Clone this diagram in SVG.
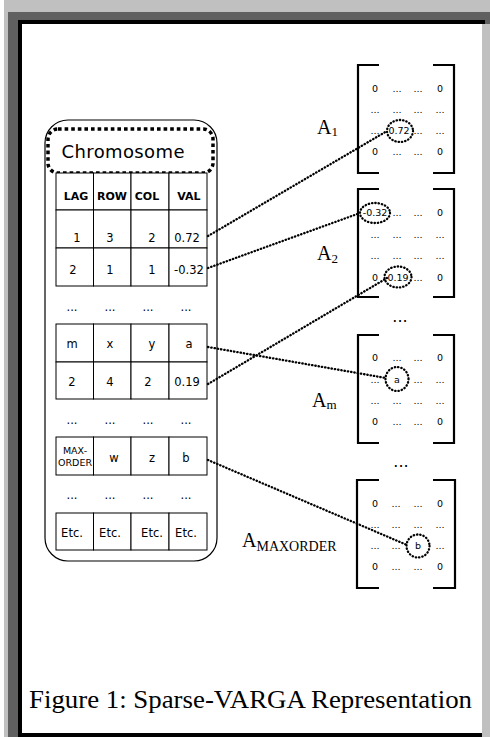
<svg xmlns="http://www.w3.org/2000/svg" width="490" height="737" viewBox="0 0 490 737">
<style>
.cell{fill:#fff;stroke:#000;stroke-width:1}
.t{font-family:"DejaVu Sans",Verdana,sans-serif;font-size:11.5px;text-anchor:middle;fill:#000}
.h{font-family:"DejaVu Sans",Verdana,sans-serif;font-size:11px;font-weight:bold;text-anchor:middle;fill:#000}
.m{font-family:"DejaVu Sans",Verdana,sans-serif;font-size:9.5px;text-anchor:middle;fill:#000}
.dots{font-family:"DejaVu Sans",Verdana,sans-serif;font-size:16px;text-anchor:middle;fill:#000}
.lbl{font-family:"Liberation Serif","Times New Roman",serif;fill:#000}
.br{fill:none;stroke:#000;stroke-width:2.2}
.dl{fill:none;stroke:#000;stroke-width:2.3;stroke-dasharray:0.4 2.9;stroke-linecap:round}
</style>
<rect x="0" y="0" width="490" height="737" fill="#fff"/>
<rect x="4" y="0" width="486" height="737" fill="#c0c0c0"/>
<rect x="8" y="12" width="482" height="12" fill="#606060"/>
<rect x="8" y="12" width="10" height="725" fill="#606060"/>
<rect x="18" y="20" width="467" height="717" fill="#000"/>
<rect x="22" y="24" width="460" height="709" fill="#fff"/>
<rect x="482" y="24" width="8" height="713" fill="#c0c0c0"/>

<g id="chromosome">
<rect x="45" y="120" width="172" height="441" rx="23" ry="23" fill="#fff" stroke="#000" stroke-width="1.2"/>
<rect x="48" y="129" width="165" height="44" rx="10" ry="10" fill="none" stroke="#000" stroke-width="3.5" stroke-dasharray="3.6 3"/>
<text x="123" y="158" font-family="'DejaVu Sans',sans-serif" font-size="18" text-anchor="middle" textLength="123">Chromosome</text>
</g>

<g id="table">
<g>
<rect class="cell" x="56" y="173" width="37.5" height="37"/><rect class="cell" x="93.5" y="173" width="37.5" height="37"/><rect class="cell" x="131" y="173" width="38" height="37"/><rect class="cell" x="169" y="173" width="38" height="37"/>
<rect class="cell" x="56" y="210" width="37.5" height="38"/><rect class="cell" x="93.5" y="210" width="37.5" height="38"/><rect class="cell" x="131" y="210" width="38" height="38"/><rect class="cell" x="169" y="210" width="38" height="38"/>
<rect class="cell" x="56" y="248" width="37.5" height="38"/><rect class="cell" x="93.5" y="248" width="37.5" height="38"/><rect class="cell" x="131" y="248" width="38" height="38"/><rect class="cell" x="169" y="248" width="38" height="38"/>
<rect class="cell" x="56" y="324" width="37.5" height="38"/><rect class="cell" x="93.5" y="324" width="37.5" height="38"/><rect class="cell" x="131" y="324" width="38" height="38"/><rect class="cell" x="169" y="324" width="38" height="38"/>
<rect class="cell" x="56" y="362" width="37.5" height="37"/><rect class="cell" x="93.5" y="362" width="37.5" height="37"/><rect class="cell" x="131" y="362" width="38" height="37"/><rect class="cell" x="169" y="362" width="38" height="37"/>
<rect class="cell" x="56" y="437" width="37.5" height="38"/><rect class="cell" x="93.5" y="437" width="37.5" height="38"/><rect class="cell" x="131" y="437" width="38" height="38"/><rect class="cell" x="169" y="437" width="38" height="38"/>
<rect class="cell" x="56" y="513" width="37.5" height="37"/><rect class="cell" x="93.5" y="513" width="37.5" height="37"/><rect class="cell" x="131" y="513" width="38" height="37"/><rect class="cell" x="169" y="513" width="38" height="37"/>
</g>
<text class="h" x="76" y="200">LAG</text><text class="h" x="112" y="200">ROW</text><text class="h" x="147" y="200">COL</text><text class="h" x="189" y="200">VAL</text>
<text class="t" x="77" y="242">1</text><text class="t" x="110" y="242">3</text><text class="t" x="152" y="242">2</text><text class="t" x="187" y="242">0.72</text>
<text class="t" x="73" y="274">2</text><text class="t" x="110" y="274">1</text><text class="t" x="152" y="274">1</text><text class="t" x="189" y="274">-0.32</text>
<text class="t" x="72" y="311">...</text><text class="t" x="110" y="311">...</text><text class="t" x="148" y="311">...</text><text class="t" x="186" y="311">...</text>
<text class="t" x="72" y="348">m</text><text class="t" x="110" y="348">x</text><text class="t" x="152" y="348">y</text><text class="t" x="189" y="348">a</text>
<text class="t" x="72" y="386">2</text><text class="t" x="110" y="386">4</text><text class="t" x="148" y="386">2</text><text class="t" x="187" y="386">0.19</text>
<text class="t" x="72" y="424">...</text><text class="t" x="110" y="424">...</text><text class="t" x="148" y="424">...</text><text class="t" x="186" y="424">...</text>
<text class="m" x="75" y="454" font-size="9.5">MAX-</text><text class="m" x="75" y="466" font-size="9.5">ORDER</text><text class="t" x="114" y="462">w</text><text class="t" x="152" y="462">z</text><text class="t" x="186" y="462">b</text>
<text class="t" x="72" y="499">...</text><text class="t" x="110" y="499">...</text><text class="t" x="148" y="499">...</text><text class="t" x="186" y="499">...</text>
<text class="t" x="72" y="537">Etc.</text><text class="t" x="110" y="537">Etc.</text><text class="t" x="152" y="537">Etc.</text><text class="t" x="186" y="537">Etc.</text>
</g>

<g id="A1">
<text class="lbl" x="317" y="134" font-size="20">A<tspan font-size="13" dy="2">1</tspan></text>
<path class="br" d="M379 65H358V173H379M433 65H454V173H433"/>
<text class="m" x="375" y="92">0</text><text class="m" x="397" y="92">...</text><text class="m" x="418" y="92">...</text><text class="m" x="440" y="92">0</text>
<text class="m" x="375" y="113">...</text><text class="m" x="397" y="113">...</text><text class="m" x="418" y="113">...</text><text class="m" x="440" y="113">...</text>
<text class="m" x="375" y="134">...</text><text class="m" x="399" y="134">0.72</text><text class="m" x="418" y="134">...</text><text class="m" x="440" y="134">...</text>
<text class="m" x="375" y="155">0</text><text class="m" x="397" y="155">...</text><text class="m" x="418" y="155">...</text><text class="m" x="440" y="155">0</text>
<ellipse class="dl" cx="400" cy="131" rx="13" ry="11"/>
</g>

<g id="A2">
<text class="lbl" x="317" y="260" font-size="20">A<tspan font-size="13" dy="3">2</tspan></text>
<path class="br" d="M379 189H358V297H379M433 189H454V297H433"/>
<text class="m" x="375" y="216">-0.32</text><text class="m" x="397" y="216">...</text><text class="m" x="418" y="216">...</text><text class="m" x="440" y="216">0</text>
<text class="m" x="375" y="238">...</text><text class="m" x="397" y="238">...</text><text class="m" x="418" y="238">...</text><text class="m" x="440" y="238">...</text>
<text class="m" x="375" y="259">...</text><text class="m" x="397" y="259">...</text><text class="m" x="418" y="259">...</text><text class="m" x="440" y="259">...</text>
<text class="m" x="375" y="281">0</text><text class="m" x="398" y="281">0.19</text><text class="m" x="418" y="281">...</text><text class="m" x="440" y="281">0</text>
<ellipse class="dl" cx="375" cy="213" rx="15" ry="10"/>
<ellipse class="dl" cx="398" cy="277" rx="13.5" ry="10.5"/>
</g>

<text class="dots" x="400" y="322">...</text>

<g id="Am">
<text class="lbl" x="312" y="407" font-size="20">A<tspan font-size="13" dy="2">m</tspan></text>
<path class="br" d="M379 335H358V443H379M433 335H454V443H433"/>
<text class="m" x="375" y="361">0</text><text class="m" x="397" y="361">...</text><text class="m" x="418" y="361">...</text><text class="m" x="440" y="361">0</text>
<text class="m" x="375" y="383">...</text><text class="m" x="397" y="383">a</text><text class="m" x="418" y="383">...</text><text class="m" x="440" y="383">...</text>
<text class="m" x="375" y="404">...</text><text class="m" x="397" y="404">...</text><text class="m" x="418" y="404">...</text><text class="m" x="440" y="404">...</text>
<text class="m" x="375" y="425">0</text><text class="m" x="397" y="425">...</text><text class="m" x="418" y="425">...</text><text class="m" x="440" y="425">0</text>
<ellipse class="dl" cx="397" cy="379" rx="11.5" ry="12"/>
</g>

<text class="dots" x="401" y="467">...</text>

<g id="AMAXORDER">
<text class="lbl" x="242" y="547" font-size="20">A<tspan font-size="14" dy="4">MAXORDER</tspan></text>
<path class="br" d="M379 480H357V588H379M433 480H455V588H433"/>
<text class="m" x="375" y="507">0</text><text class="m" x="396" y="507">...</text><text class="m" x="418" y="507">...</text><text class="m" x="440" y="507">0</text>
<text class="m" x="375" y="528">...</text><text class="m" x="396" y="528">...</text><text class="m" x="418" y="528">...</text><text class="m" x="440" y="528">...</text>
<text class="m" x="375" y="549">...</text><text class="m" x="396" y="549">...</text><text class="m" x="418" y="549">b</text><text class="m" x="440" y="549">...</text>
<text class="m" x="375" y="570">0</text><text class="m" x="396" y="570">...</text><text class="m" x="418" y="570">...</text><text class="m" x="440" y="570">0</text>
<ellipse class="dl" cx="418" cy="546" rx="11.5" ry="11.5"/>
</g>

<g id="connectors">
<path class="dl" d="M208 236L387 131"/>
<path class="dl" d="M208 268L360 213"/>
<path class="dl" d="M208 384L387 278"/>
<path class="dl" d="M208 347L386 378"/>
<path class="dl" d="M208 460L407 545"/>
</g>

<text class="lbl" x="29" y="708" font-size="26" textLength="443" lengthAdjust="spacingAndGlyphs">Figure 1: Sparse-VARGA Representation</text>
</svg>
